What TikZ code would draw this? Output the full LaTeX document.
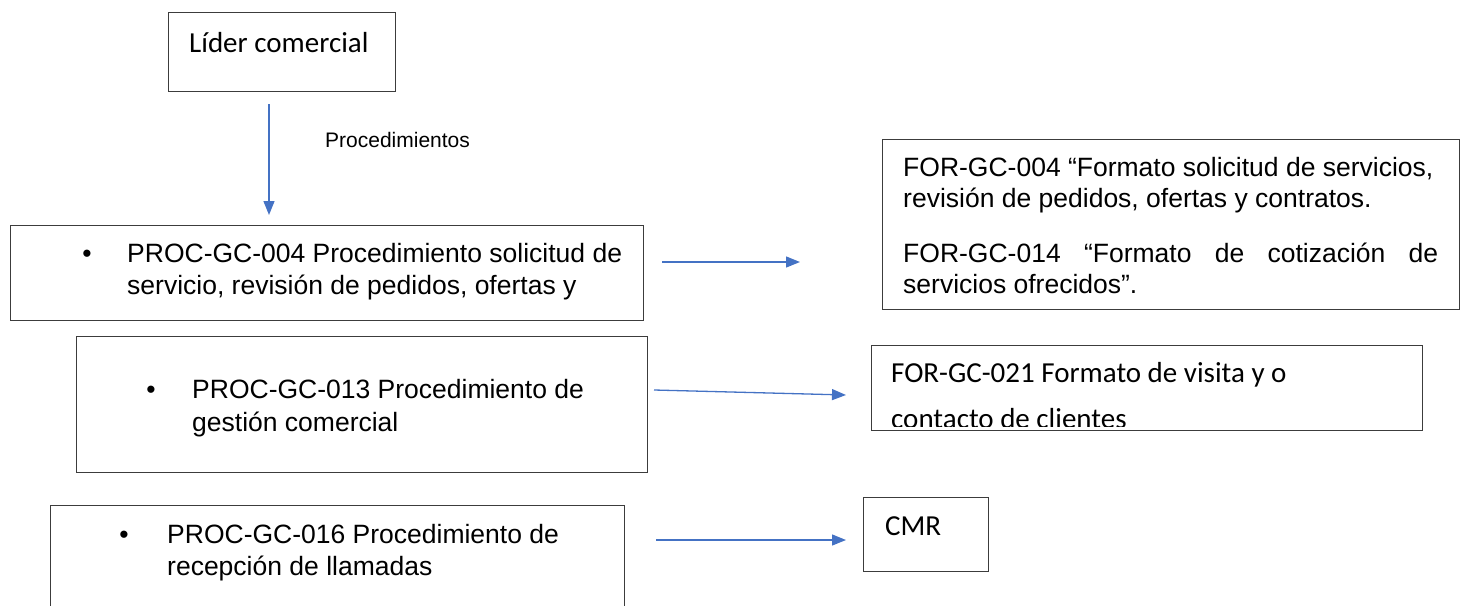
\documentclass[tikz,border=0pt]{standalone}
\usepackage{fontspec}
\setmainfont{Liberation Sans}
\newfontfamily\carlito{Carlito}
\usepackage{tikz}
\usetikzlibrary{arrows.meta, positioning}

\definecolor{linkblue}{RGB}{68,114,196}
\definecolor{boxgray}{RGB}{60,60,60}

\tikzset{
  box/.style={draw=boxgray, line width=1.2pt, anchor=north west, inner sep=0pt},
  txt/.style={anchor=base west, inner sep=0pt, font=\fontsize{26.5}{32}\selectfont},
  ctxt/.style={anchor=base west, inner sep=0pt, font=\carlito\fontsize{29}{35}\selectfont},
  dot/.style={anchor=base, inner sep=0pt, font=\fontsize{26.5}{32}\selectfont},
  link/.style={linkblue, line width=1.3pt, -{Triangle[length=14pt,width=11pt]}}
}

\begin{document}
\begin{tikzpicture}[x=1pt,y=-1pt]
            \useasboundingbox (0,0) rectangle (1471,605);

            % Draw boxes
            \node[box, minimum width=227, minimum height=79] (lider) at (168,12) {};
            \node[box, minimum width=633, minimum height=95] (proc004) at (10,225) {};
            \node[box, minimum width=577, minimum height=170] (for004) at (882,139) {};
            \node[box, minimum width=571, minimum height=136] (proc013) at (76,336) {};
            \node[box, minimum width=551, minimum height=85] (for021) at (871,345) {};
            \node[box, minimum width=574, minimum height=130] (proc016) at (50,505) {};
            \node[box, minimum width=125, minimum height=74] (cmr) at (863,497) {};

            % Labels
            \node[ctxt] (liderT) at (189,52) {Líder comercial};
            \node[txt, font=\fontsize{21}{25}\selectfont] (procT) at (325,147) {Procedimientos};

            \node[dot] (b004) at (87,262) {•};
            \node[txt] (p004a) at (127,262) {PROC-GC-004 Procedimiento solicitud de};
            \node[txt] (p004b) at (127,294) {servicio, revisión de pedidos, ofertas y};

            \node[txt] (f004a) at (903,176) {FOR-GC-004 “Formato solicitud de servicios,};
            \node[txt] (f004b) at (903,207) {revisión de pedidos, ofertas y contratos.};
            \node[txt] (f014a) at (903,262) {\makebox[535pt][s]{FOR-GC-014 “Formato de cotización de}};
            \node[txt] (f014b) at (903,293) {servicios ofrecidos”.};

            \node[dot] (b013) at (151,398) {•};
            \node[txt] (p013a) at (192,398) {PROC-GC-013 Procedimiento de};
            \node[txt] (p013b) at (192,431) {gestión comercial};

            \node[ctxt] (f021a) at (891,382) {FOR-GC-021 Formato de visita y o};
            \begin{scope}
              \clip (871,345) rectangle (1422,426);
              \node[ctxt] (f021b) at (891,428) {contacto de clientes};
            \end{scope}

            \node[dot] (b016) at (124,543) {•};
            \node[txt] (p016a) at (167,543) {PROC-GC-016 Procedimiento de};
            \node[txt] (p016b) at (167,575) {recepción de llamadas};

            \node[ctxt] (cmrT) at (885,535) {CMR};

            % Arrows
            \coordinate (a1s) at (269,104);
            \coordinate (a1e) at (269,215);
            \coordinate (a2s) at (662,262);
            \coordinate (a2e) at (800,262);
            \coordinate (a3s) at (654,390);
            \coordinate (a3e) at (846,395);
            \coordinate (a4s) at (656,540);
            \coordinate (a4e) at (846,540);
            \draw[link] (a1s) -- (a1e);
            \draw[link] (a2s) -- (a2e);
            \draw[link] (a3s) -- (a3e);
            \draw[link] (a4s) -- (a4e);
        \end{tikzpicture}
\end{document}
